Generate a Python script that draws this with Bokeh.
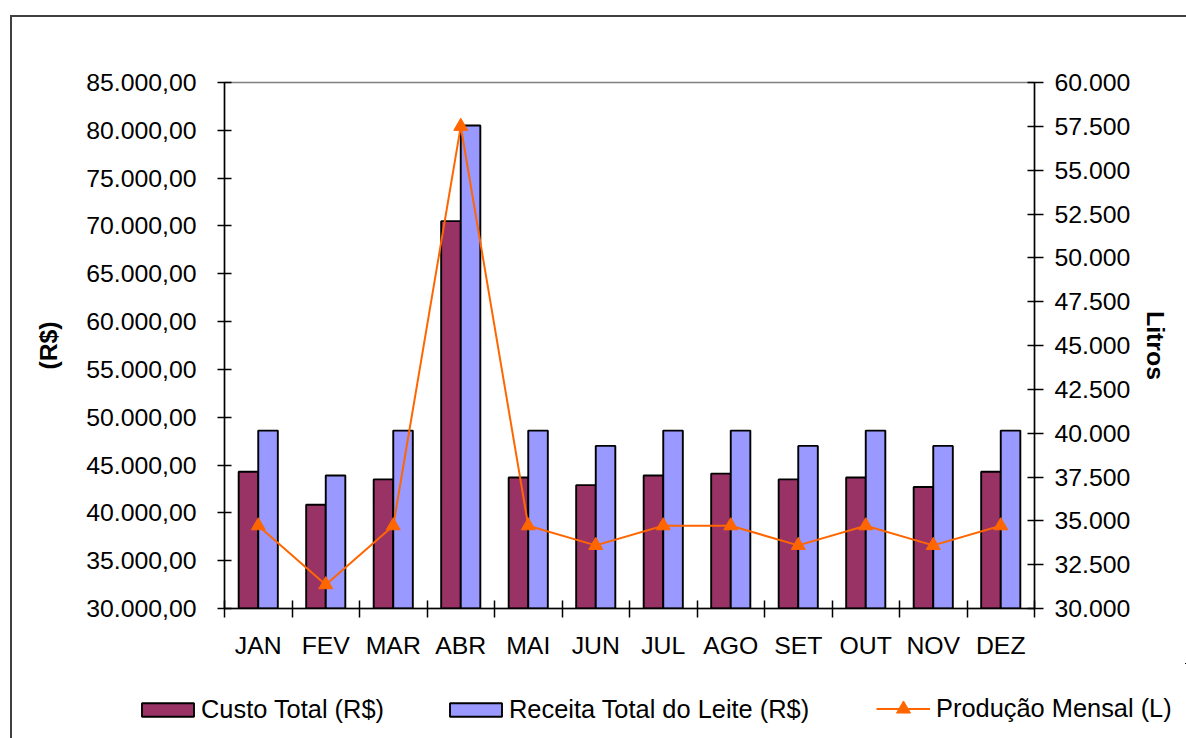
import numpy as np
from bokeh.plotting import figure
from bokeh.layouts import column
from bokeh.models import (LinearAxis, Range1d, FixedTicker, Legend, LegendItem)
from bokeh.embed import file_html
from bokeh.resources import INLINE

# Monthly data
meses = ["JAN", "FEV", "MAR", "ABR", "MAI", "JUN", "JUL", "AGO", "SET", "OUT", "NOV", "DEZ"]
custo_total = [44300, 40850, 43500, 70500, 43700, 42900, 43900, 44100, 43500, 43700, 42700, 44300]
receita_leite = [48600, 43900, 48600, 80500, 48600, 47000, 48600, 48600, 47000, 48600, 47000, 48600]
producao_litros = [34720, 31360, 34720, 57500, 34720, 33600, 34720, 34720, 33600, 34720, 33600, 34720]

reais_ticks = list(range(30000, 85001, 5000))
litros_ticks = list(range(30000, 60001, 2500))

FONT = "Liberation Sans"
FS = "24.8px"
FS_LEGEND = "25.4px"

CUSTO_STYLE = dict(fill_color="#993366", line_color="black", line_width=1.9)
RECEITA_STYLE = dict(fill_color="#9999FF", line_color="black", line_width=1.9)
LINE_STYLE = dict(line_color="#FF6600", line_width=2)
MARK_STYLE = dict(marker="triangle", size=14, fill_color="#FF6600", line_color="#FF6600")


def br_number(v, decimals):
    s = f"{v:,.{decimals}f}"
    return s.replace(",", "#").replace(".", ",").replace("#", ".")


x_center = np.arange(len(meses)) + 0.5
off = 0.145
bar_w = 0.29

# ---- main chart ----
p = figure(width=1174, height=646, output_backend="svg", toolbar_location=None,
           x_range=Range1d(0, len(meses)), y_range=Range1d(30000, 85000),
           min_border_left=212, min_border_right=152, min_border_top=65, min_border_bottom=55,
           background_fill_color="white", border_fill_color="white")
p.xgrid.visible = False
p.ygrid.visible = False
p.outline_line_color = "#808080"
p.outline_line_width = 1.5

p.extra_y_ranges = {"litros": Range1d(30000, 60000)}

p.vbar(x=x_center - off, top=custo_total, bottom=30000, width=bar_w, **CUSTO_STYLE)
p.vbar(x=x_center + off, top=receita_leite, bottom=30000, width=bar_w, **RECEITA_STYLE)
p.line(x=x_center, y=producao_litros, y_range_name="litros", **LINE_STYLE)
p.scatter(x=x_center, y=producao_litros, y_range_name="litros", **MARK_STYLE)

# x axis: labels at month centres, tick marks between months
xa = p.xaxis[0]
xa.ticker = FixedTicker(ticks=list(x_center), minor_ticks=list(range(len(meses) + 1)))
xa.major_label_overrides = {float(c): m for c, m in zip(x_center, meses)}
xa.major_tick_line_color = None
xa.minor_tick_line_color = "black"
xa.minor_tick_line_width = 1.5
xa.minor_tick_in = 8
xa.minor_tick_out = 9
xa.axis_line_color = "black"
xa.axis_line_width = 1.5
xa.major_label_standoff = 14
xa.major_label_text_font = FONT
xa.major_label_text_font_size = FS
xa.major_label_text_color = "black"

# left axis in R$
ya = p.yaxis[0]
ya.ticker = FixedTicker(ticks=reais_ticks)
ya.major_label_overrides = {t: br_number(t, 2) for t in reais_ticks}
ya.minor_tick_line_color = None
ya.major_tick_in = 7
ya.major_tick_out = 7
ya.major_tick_line_color = "black"
ya.major_tick_line_width = 1.5
ya.axis_line_color = "black"
ya.axis_line_width = 1.5
ya.major_label_standoff = 21
ya.major_label_text_font = FONT
ya.major_label_text_font_size = FS
ya.major_label_text_color = "black"
ya.axis_label = "(R$)"
ya.axis_label_text_font = FONT
ya.axis_label_text_font_size = FS
ya.axis_label_text_font_style = "bold"
ya.axis_label_text_color = "black"
ya.axis_label_standoff = 21

# right axis in litres
ra = LinearAxis(y_range_name="litros", ticker=FixedTicker(ticks=litros_ticks))
ra.major_label_overrides = {t: br_number(t, 0) for t in litros_ticks}
ra.minor_tick_line_color = None
ra.major_tick_in = 7
ra.major_tick_out = 9
ra.major_tick_line_color = "black"
ra.major_tick_line_width = 1.5
ra.axis_line_color = "black"
ra.axis_line_width = 1.5
ra.major_label_standoff = 11
ra.major_label_text_font = FONT
ra.major_label_text_font_size = FS
ra.major_label_text_color = "black"
ra.axis_label = "Litros"
ra.axis_label_text_font = FONT
ra.axis_label_text_font_size = FS
ra.axis_label_text_font_style = "bold"
ra.axis_label_text_color = "black"
ra.axis_label_standoff = 9
p.add_layout(ra, "right")

# ---- legend strip below the chart ----
# the same series are drawn here outside the visible ranges, so only the legends show
lg = figure(width=1174, height=75, output_backend="svg", toolbar_location=None,
            x_range=Range1d(-100, -99), y_range=Range1d(-100, -99),
            x_axis_type=None, y_axis_type=None,
            min_border=0, min_border_left=0, min_border_right=0,
            min_border_top=0, min_border_bottom=0,
            background_fill_color="white", border_fill_color="white")
lg.frame_align = False
lg.grid.visible = False
lg.outline_line_color = None
l_custo = lg.vbar(x=x_center - off, top=custo_total, bottom=30000, width=bar_w, **CUSTO_STYLE)
l_receita = lg.vbar(x=x_center + off, top=receita_leite, bottom=30000, width=bar_w, **RECEITA_STYLE)
l_line = lg.line(x=x_center, y=producao_litros, **LINE_STYLE)
l_mark = lg.scatter(x=x_center, y=producao_litros, **MARK_STYLE)

legend_bars = Legend(items=[
    LegendItem(label="Custo Total (R$)", renderers=[l_custo]),
    LegendItem(label="Receita Total do Leite (R$)", renderers=[l_receita]),
], orientation="horizontal", location=(123, 14), padding=0, margin=0,
    spacing=59, glyph_width=65, glyph_height=17, label_standoff=1,
    label_text_font=FONT, label_text_font_size=FS_LEGEND, label_text_color="black",
    border_line_color=None, background_fill_alpha=0)
lg.add_layout(legend_bars, "center")

legend_line = Legend(items=[
    LegendItem(label="Produção Mensal (L)", renderers=[l_line, l_mark]),
], orientation="horizontal", location=(864, 12), padding=0, margin=0,
    glyph_width=54, glyph_height=35, label_standoff=6,
    label_text_font=FONT, label_text_font_size=FS_LEGEND, label_text_color="black",
    border_line_color=None, background_fill_alpha=0)
lg.add_layout(legend_line, "center")

page = column(p, lg, spacing=0,
              styles={"margin-left": "10px", "margin-top": "15px",
                      "border-left": "2px solid #404040", "border-top": "2px solid #404040"})

open("out.html", "w").write(file_html(page, INLINE))
